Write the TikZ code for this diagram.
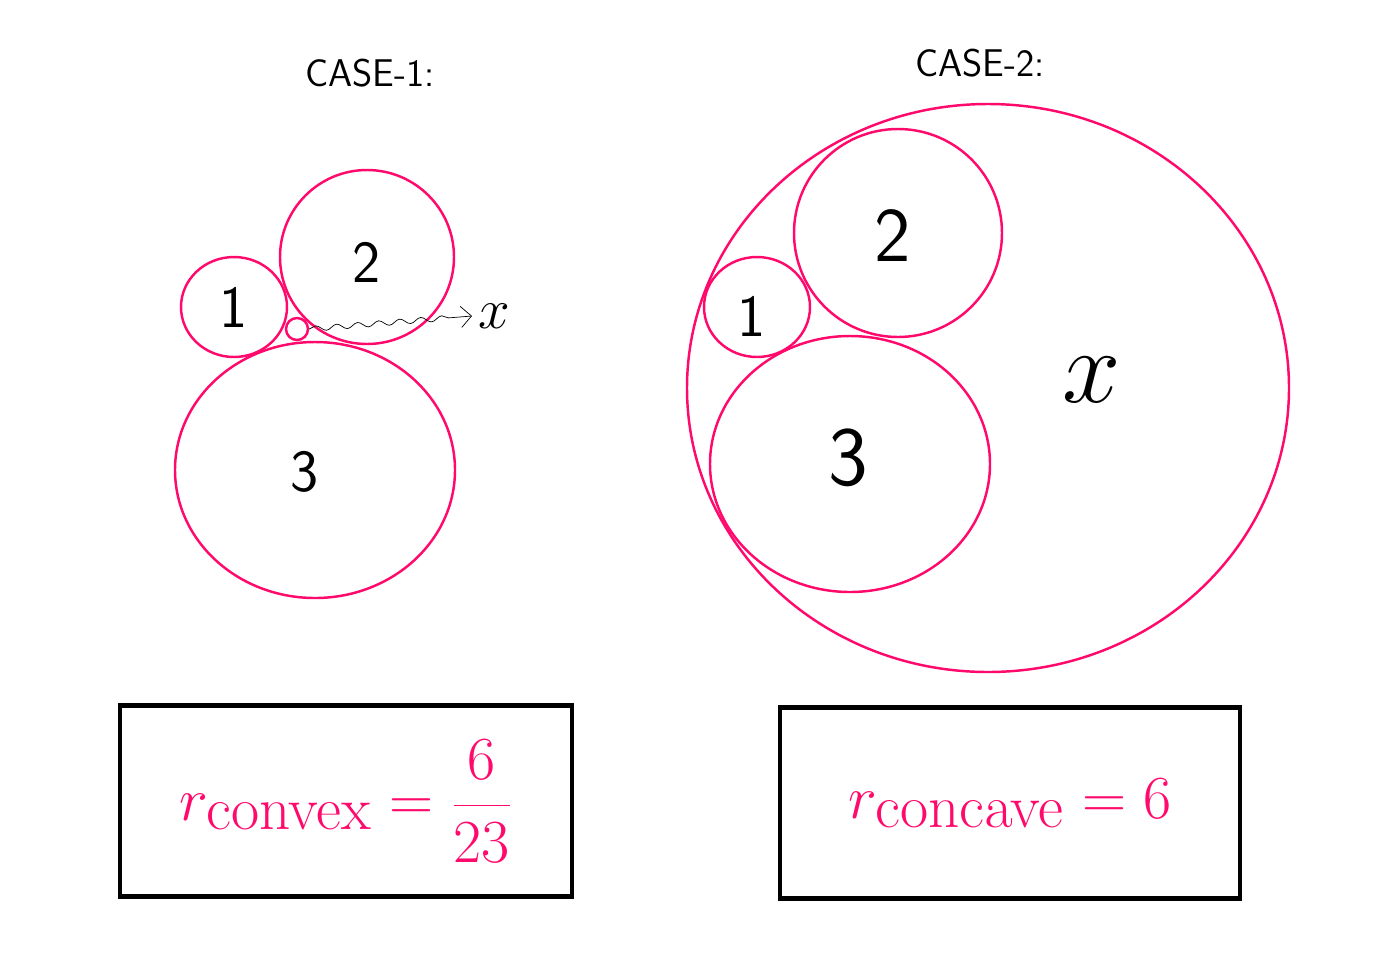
\documentclass[tikz,border=0pt]{standalone}
\usepackage{tikz}
\usetikzlibrary{positioning,shapes.geometric,decorations.pathmorphing,arrows.meta}
\definecolor{pinkc}{HTML}{FF0A6C}
\tikzset{
  ring/.style={ellipse, draw=pinkc, line width=1.4pt, inner sep=0pt},
  lbl/.style={font=\sffamily\fontsize{34}{34}\selectfont},
  title/.style={font=\sffamily\fontsize{22}{22}\selectfont},
  resbox/.style={draw, line width=2.4pt, inner sep=0pt},
  formula/.style={text=pinkc, font=\fontsize{36}{38}\selectfont}
}
\begin{document}
\begin{tikzpicture}[x=0.02cm, y=-0.02cm]
	\useasboundingbox (0,0) rectangle (1400,961);

	% Case 1:
	\node[title] (t1) at (370,73) {CASE-1:};
	\node[ring, minimum width=106*0.02cm, minimum height=100*0.02cm] (a1) at (234,307) {};
	\node[ring, minimum width=174*0.02cm, minimum height=174*0.02cm] (b1) at (367,257) {};
	\node[ring, minimum width=22*0.02cm, minimum height=22*0.02cm] (s1) at (297,329) {};
	\node[ring, minimum width=280*0.02cm, minimum height=256*0.02cm] (c1) at (315,470) {};
	\node[lbl] at (a1) {1};
	\node[lbl] at (b1.center) [yshift=-0.1cm] {2};
	\node[lbl] at (305,472) {3};
	\node[lbl] (x1) at (494,316) {\scalebox{1.3}{$x$}};
	\draw[-{Straight Barb[length=6pt]}, decorate, decoration={snake, amplitude=1.5pt, segment length=12pt, post length=8pt}] (s1.east) -- (x1.west);

	% Case 2:
	\node[title] (t2) at (980,63) {CASE-2:};
	\node[ring, minimum width=602*0.02cm, minimum height=568*0.02cm] (o2) at (988,388) {};
	\node[ring, minimum width=208*0.02cm, minimum height=208*0.02cm] (b2) at (898,233) {};
	\node[ring, minimum width=106*0.02cm, minimum height=100*0.02cm] (a2) at (757,307) {};
	\node[ring, minimum width=280*0.02cm, minimum height=256*0.02cm] (c2) at (850,464) {};
	\node[lbl] at (752,316) {1};
	\node[lbl, font=\sffamily\fontsize{44}{44}\selectfont] at (893,236) {2};
	\node[lbl, font=\sffamily\fontsize{48}{48}\selectfont] at (848,458) {3};
	\node[lbl] at (1092,380) {\scalebox{2.4}{$x$}};

	% Boxes
	\node[resbox, minimum width=452*0.02cm, minimum height=191*0.02cm] (r1) at (346,801) {};
	\node[resbox, minimum width=460*0.02cm, minimum height=191*0.02cm] (r2) at (1010,803) {};
	\node[formula] at (r1) {\scalebox{1.4}{$\displaystyle r_{\mathrm{convex}} = \frac{6}{23}$}};
	\node[formula] at (r2) {\scalebox{1.4}{$r_{\mathrm{concave}} = 6$}};
\end{tikzpicture}
\end{document}
